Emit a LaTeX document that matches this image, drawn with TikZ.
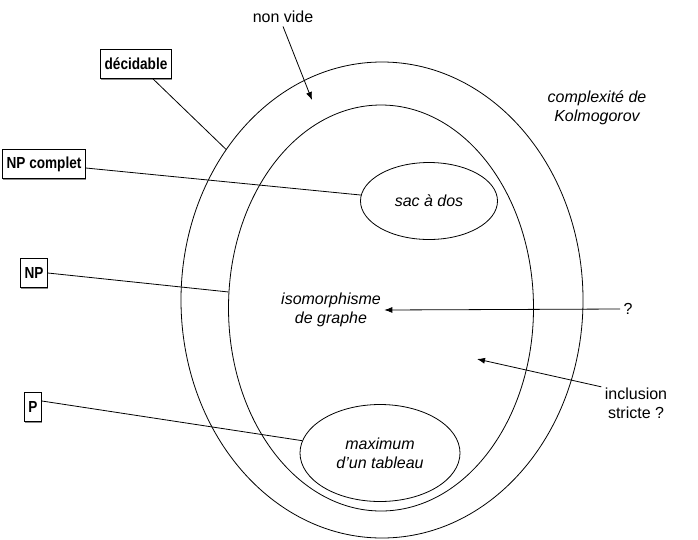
\documentclass[tikz,border=0pt]{standalone}
\usepackage{fontspec}
\setmainfont{Liberation Sans}
\newfontfamily\boxfont[FakeStretch=0.85]{Liberation Sans}
\usetikzlibrary{positioning,arrows.meta,shapes.geometric,shadows}
\tikzset{
  setellipse/.style={ellipse, draw, line width=0.8pt, inner sep=0pt},
  classbox/.style={rectangle, draw, line width=0.8pt, fill=white, font=\boxfont\bfseries\fontsize{16}{19}\selectfont,
                   inner xsep=4pt, minimum height=29pt,
                   drop shadow={shadow xshift=0.4pt, shadow yshift=-1.6pt, fill=black!45, opacity=1}},
  problem/.style={font=\itshape\fontsize{16}{19}\selectfont, align=center},
  remark/.style={font=\fontsize{16}{19}\selectfont, align=center},
  link/.style={line width=0.8pt},
  fwd/.style={line width=0.8pt, -{Latex[length=8pt,width=6pt]}},
}
\begin{document}
\begin{tikzpicture}[x=1pt, y=-1pt]
\useasboundingbox (0,0) rectangle (698,539);
%Sets
\node[setellipse, minimum width=402pt, minimum height=476pt] (outer) at (382,300) {};
\node[setellipse, minimum width=305pt, minimum height=406pt] (inner) at (381,308) {};
\node[setellipse, problem, minimum width=137pt, minimum height=77pt] (sac) at (429,201) {sac à dos};
\node[setellipse, problem, minimum width=160pt, minimum height=97pt] (max) at (380,453) {maximum\\d’un tableau};

%Classes
\node[classbox] (dec) at (136,64) {décidable};
\node[classbox] (npc) at (44,164) {NP complet};
\node[classbox] (np) at (34,273) {NP};
\node[classbox] (p) at (33,407) {P};

%Texts
\node[remark] (nonvide) at (283,17) {non vide};
\node[problem] (kolmo) at (597,108) {complexité de\\Kolmogorov};
\node[problem] (iso) at (331,310) {isomorphisme\\de graphe};
\node[remark] (quest) at (628,309) {?};
\node[remark] (incl) at (636,403) {inclusion\\stricte ?};
\coordinate (nvtip) at (312,100);
\coordinate (incltip) at (477,359);

%Lines
\draw[link] ([xshift=17pt]dec.south) -- (outer.136);
\draw[link] ([yshift=-4pt]npc.east) -- (sac.175);
\draw[link] (np.east) -- (inner.174);
\draw[link] ([yshift=6pt]p.east) -- (max.171);
\draw[fwd] (nonvide.south) -- (nvtip);
\draw[fwd] (quest.west) -- (iso.east);
\draw[fwd] (incl.155) -- (incltip);
\end{tikzpicture}
\end{document}
